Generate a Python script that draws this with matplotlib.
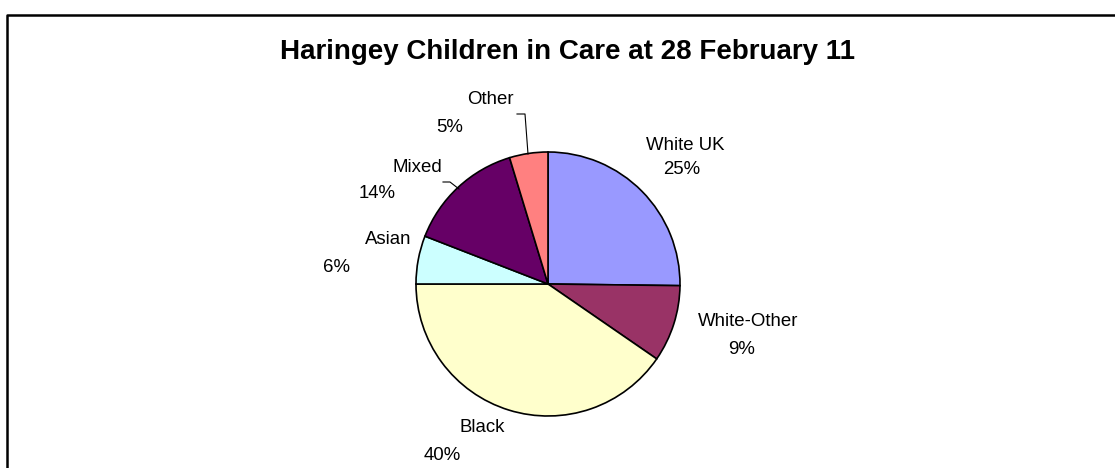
import matplotlib.pyplot as plt

# data
groups = ['White UK', 'White-Other', 'Black', 'Asian', 'Mixed', 'Other']
shares = [25.2, 9.4, 40.4, 5.9, 14.4, 4.7]
colors = ['#9999FF', '#993366', '#FFFFCC', '#CCFFFF', '#660066', '#FF8080']

W, H = 1115, 468

# label layout (pixel coords, y from top): name pos, pct pos
name_pos = [(685, 145), (748, 322), (482, 427), (388, 240), (417, 167), (490, 99)]
pct_pos = [(682, 170), (742, 350), (442, 455), (337, 267), (377, 194), (450, 128)]

plt.rcParams['font.family'] = ['Liberation Sans', 'DejaVu Sans']

fig = plt.figure(figsize=(W / 100, H / 100), dpi=100)
ax = fig.add_axes([0, 0, 1, 1])
ax.set_xlim(0, W)
ax.set_ylim(0, H)
ax.set_aspect('equal')
ax.axis('off')

ax.pie(shares, colors=colors, startangle=90, counterclock=False,
       center=(548, H - 284), radius=132,
       wedgeprops=dict(edgecolor='black', linewidth=1.2))
ax.set_xlim(0, W)
ax.set_ylim(0, H)

for g, v, (nx, ny), (px, py) in zip(groups, shares, name_pos, pct_pos):
    ax.text(nx, H - ny, g, ha='center', va='center', fontsize=13.4)
    ax.text(px, H - py, '%d%%' % round(v), ha='center', va='center', fontsize=13.4)

# leader lines
ax.plot([517, 525, 528], [H - 114, H - 114, H - 154], color='black', lw=0.8)
ax.plot([443, 450, 459], [H - 182, H - 182, H - 189], color='black', lw=0.8)

# title
ax.text(568, H - 52, 'Haringey Children in Care at 28 February 11',
        ha='center', va='center', fontsize=20, fontweight='bold')

# chart border (left and top only visible)
ax.plot([7, 7, W], [0, H - 15, H - 15], color='black', lw=1.8, clip_on=False)

fig.savefig('out.png', dpi=100)
